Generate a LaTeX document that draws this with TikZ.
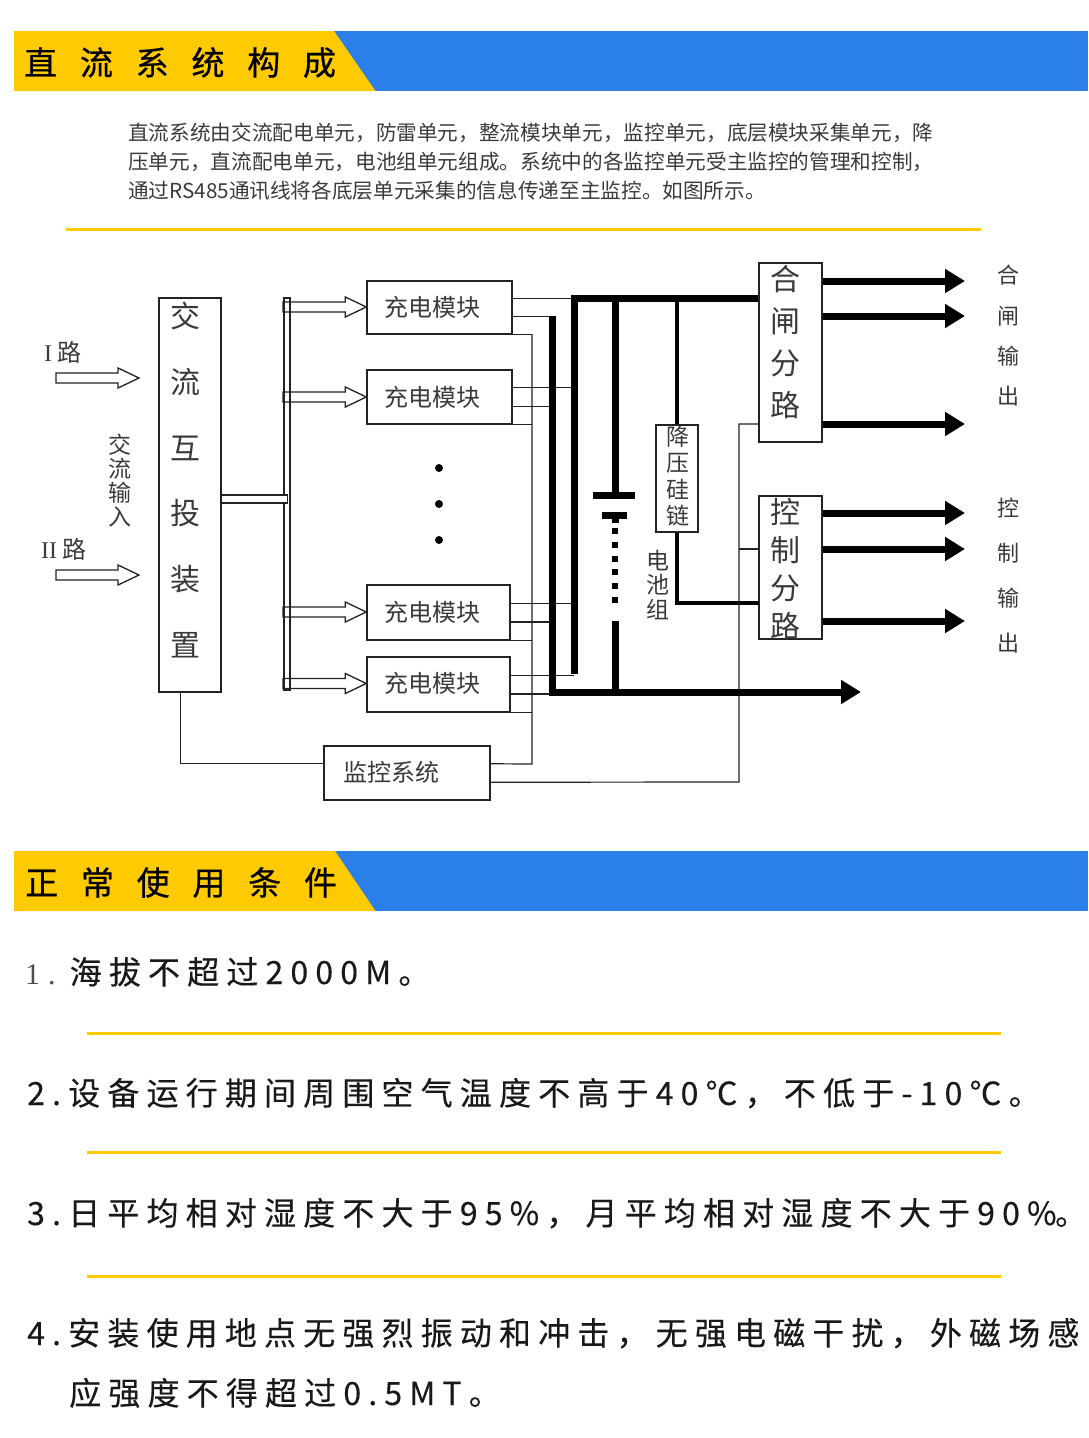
\documentclass[tikz,border=0pt]{standalone}
\usepackage{fontspec}
\usetikzlibrary{calc,arrows.meta}
\setmainfont{Noto Sans CJK SC}
\newfontfamily\cjk{Noto Sans CJK SC}
\newfontfamily\titlefont[LetterSpace=69,FakeBold=0.6]{Noto Sans CJK SC}
\newfontfamily\itemfont[LetterSpace=22.4,FakeBold=0.25]{Noto Sans CJK SC}
\newfontfamily\serifone{Liberation Serif}
\definecolor{hyellow}{HTML}{FFCB00}
\definecolor{hblue}{HTML}{2A80E8}
\definecolor{ink}{HTML}{222222}
\definecolor{dtext}{HTML}{3A3A3A}
\tikzset{
  boxnode/.style={draw=ink,line width=1.4pt,fill=white,inner sep=0pt,rectangle},
  thin line/.style={draw=ink,line width=1.2pt},
  heavy/.style={draw=black,line width=7pt,line cap=butt,line join=miter},
  medium/.style={draw=black,line width=4pt,line join=miter},
  outarrow/.style={draw=black,line width=7pt,-{Triangle[length=20pt,width=23pt]}},
  rule/.style={draw=hyellow,line width=3pt},
  titletext/.style={anchor=base west,inner sep=0pt,font=\fontsize{33}{33}\titlefont},
  itemtext/.style={anchor=base west,inner sep=0pt,text=black!90,font=\fontsize{32}{32}\itemfont},
  paratext/.style={anchor=base west,inner sep=0pt,text=dtext,font=\fontsize{20.65}{20.65}\selectfont},
  label/.style={inner sep=0pt,text=dtext,align=center},
}
\newcommand{\hollowarrow}[2]{%
  \draw[draw=ink,line width=1.3pt,line join=miter]
    let \p1=(#1),\p2=(#2) in
    (\x1,\y1+5pt) -- (\x2-21pt,\y1+5pt) -- (\x2-21pt,\y1+10pt) -- (\x2,\y1)
    -- (\x2-21pt,\y1-10pt) -- (\x2-21pt,\y1-5pt) -- (\x1,\y1-5pt) -- cycle;}
\begin{document}
\begin{tikzpicture}[x=1pt,y=-1pt]
\useasboundingbox (0,0) rectangle (1088,1438);
% headers
\fill[hblue] (330,31) rectangle (1088,91);
\fill[hyellow] (14,31) -- (334,31) -- (375.5,91) -- (14,91) -- cycle;
\fill[hblue] (330,851) rectangle (1088,911);
\fill[hyellow] (14,851) -- (335,851) -- (375.5,911) -- (14,911) -- cycle;
\node[titletext] (t1) at (24,75) {直流系统构成};
\node[titletext] (t2) at (25,895) {正常使用条件};
% paragraph
\node[paratext] (p1) at (128,140) {直流系统由交流配电单元，防雷单元，整流模块单元，监控单元，底层模块采集单元，降};
\node[paratext] (p2) at (128,169) {压单元，直流配电单元，电池组单元组成。系统中的各监控单元受主监控的管理和控制，};
\node[paratext] (p3) at (128,198) {通过RS485通讯线将各底层单元采集的信息传递至主监控。如图所示。};
\draw[rule] (66,229) -- (981,229);
% boxes
\node[boxnode,minimum width=62pt,minimum height=394pt] (ac) at (190,495) {};
\node[boxnode,minimum width=6pt,minimum height=392pt] (bus) at (287,494) {};
\node[boxnode,minimum width=66pt,minimum height=8pt] (bar) at (254.5,499) {};
\node[boxnode,minimum width=145pt,minimum height=53pt] (m1) at (439.5,307.5) {};
\node[boxnode,minimum width=145pt,minimum height=54pt] (m2) at (439.5,397) {};
\node[boxnode,minimum width=143pt,minimum height=55pt] (m3) at (438.5,612.5) {};
\node[boxnode,minimum width=143pt,minimum height=55pt] (m4) at (438.5,684.5) {};
\node[boxnode,minimum width=166pt,minimum height=54pt] (mon) at (407,773) {};
\node[boxnode,minimum width=63pt,minimum height=179pt] (he) at (790.5,352.5) {};
\node[boxnode,minimum width=63pt,minimum height=143pt] (ctl) at (790.5,567.5) {};
\node[boxnode,minimum width=42pt,minimum height=107pt] (drop) at (677,478.5) {};
% coordinates of buses
\coordinate (cTop) at (532,334);
\coordinate (cBot) at (532,764);
\coordinate (aTop) at (574,298);
\coordinate (aBot) at (574,674);
\coordinate (bTop) at (552,316);
\coordinate (bBot) at (552,692);
\coordinate (bEnd) at (861,692);
\coordinate (dTop) at (739,424);
\coordinate (dBot) at (739,782);
% stubs of the modules
\foreach \m in {m1,m2,m3,m4}{
  \coordinate (\m up) at ($(\m.north east)!1/3!(\m.south east)$);
  \coordinate (\m lo) at ($(\m.north east)!2/3!(\m.south east)$);
  \draw[thin line] (\m up) -- (\m up -| aTop);
  \draw[thin line] (\m lo) -- (\m lo -| bTop);
  \draw[thin line] (\m.south east) -- (\m.south east -| cTop);
}
\coordinate (monA) at ($(mon.north east)!1/3!(mon.south east)$);
\coordinate (monB) at ($(mon.north east)!2/3!(mon.south east)$);
\coordinate (monW) at ($(mon.north west)!1/3!(mon.south west)$);
\coordinate (acS) at ($(ac.south west)!.35!(ac.south east)$);
\coordinate (ctlIn) at (759,549);
\coordinate (ctlBr) at (759,603);
\draw[thin line] (cTop) -- (cBot) -- (monA);
\draw[thin line] (monB) -- (dBot) -- (dTop) -- (dTop -| he.west);
\draw[thin line] (dTop |- ctlIn) -- (ctlIn);
\draw[thin line] (monW) -| (acS);
% heavy buses
\draw[heavy] (aBot) -- (aTop) -- (aTop -| he.west);
\draw[heavy] (bTop) -- (bBot);
\draw[draw=black,line width=7pt,-{Triangle[length=20pt,width=23pt]}] ($(bBot)+(-3.5,0)$) -- (bEnd);
% battery
\coordinate (batA) at (615,495);
\coordinate (batB) at (615,515);
\coordinate (batC) at (615,621);
\draw[heavy] (aTop -| batA) -- (batA);
\draw[heavy] ($(batA)+(-22,0)$) -- ($(batA)+(20,0)$);
\draw[heavy] ($(batB)+(-13,0)$) -- ($(batB)+(12,0)$);
\draw[heavy] (batB) -- ++(0,8);
\draw[draw=black,line width=6pt,dash pattern=on 6pt off 7.8pt] (615,528) -- (615,604);
\draw[heavy] (batC) -- (bBot -| batC);
% branch through the diode chain
\draw[medium] (aTop -| drop.north) -- (drop.north);
\draw[medium] (drop.south) |- (ctlBr);
% outputs
\coordinate (o1) at (965,281); \coordinate (o2) at (965,316); \coordinate (o3) at (965,424);
\coordinate (o4) at (965,513); \coordinate (o5) at (965,549); \coordinate (o6) at (965,621);
\draw[outarrow] (o1 -| he.east) -- (o1);
\draw[outarrow] (o2 -| he.east) -- (o2);
\draw[outarrow] (o3 -| he.east) -- (o3);
\draw[outarrow] (o4 -| ctl.east) -- (o4);
\draw[outarrow] (o5 -| ctl.east) -- (o5);
\draw[outarrow] (o6 -| ctl.east) -- (o6);
% hollow arrows
\coordinate (i1) at (56,378); \coordinate (i2) at (56,575);
\coordinate (i1e) at (139,378); \coordinate (i2e) at (139,575);
\hollowarrow{i1}{i1e}
\hollowarrow{i2}{i2e}
\coordinate (s1) at (283,307); \coordinate (s2) at (283,397);
\coordinate (s3) at (283,612); \coordinate (s4) at (283,683.5);
\hollowarrow{s1}{m1.west}
\hollowarrow{s2}{m2.west}
\hollowarrow{s3}{m3.west}
\hollowarrow{s4}{m4.west}
% dots
\fill[black] (439,468) circle (4pt) (439,504) circle (4pt) (439,540) circle (4pt);
% diagram labels
\node[label,font=\fontsize{24}{24}\selectfont] (lm1) at (432.5,307) {充电模块};
\node[label,font=\fontsize{24}{24}\selectfont] (lm2) at (432.5,397) {充电模块};
\node[label,font=\fontsize{24}{24}\selectfont] (lm3) at (432.5,612) {充电模块};
\node[label,font=\fontsize{24}{24}\selectfont] (lm4) at (432.5,683) {充电模块};
\node[label,font=\fontsize{24}{24}\selectfont] (lmon) at (391,772) {监控系统};
\node[label,font=\fontsize{30}{65.8}\selectfont] (lac) at (185,480) {交\\流\\互\\投\\装\\置};
\node[label,font=\fontsize{30}{41.7}\selectfont] (lhe) at (785,342) {合\\闸\\分\\路};
\node[label,font=\fontsize{30}{37.7}\selectfont] (lctl) at (785,569) {控\\制\\分\\路};
\node[label,font=\fontsize{23}{26.5}\selectfont] (ldrop) at (678,476) {降\\压\\硅\\链};
\node[label,font=\fontsize{23}{24.5}\selectfont] (lbat) at (658,585) {电\\池\\组};
\node[label,font=\fontsize{23}{24}\selectfont] (lin) at (120,481) {交\\流\\输\\入};
\node[label,font=\fontsize{22}{40.3}\selectfont] (lo1) at (1008,336) {合\\闸\\输\\出};
\node[label,font=\fontsize{22}{45}\selectfont] (lo2) at (1008,576) {控\\制\\输\\出};
\node[label,anchor=west,font=\fontsize{24}{24}\selectfont] (lI) at (44,352) {{\serifone I} 路};
\node[label,anchor=west,font=\fontsize{24}{24}\selectfont] (lII) at (41,549) {{\serifone II} 路};
% conditions
\node[itemtext] (i1t) at (25,984) {{\fontsize{30}{30}\serifone\color{black!70}1\hspace{8pt}.}\hspace{14pt}海拔不超过2000M。};
\draw[rule] (87,1033) -- (1001,1033);
\node[itemtext] (i2t) at (27,1105) {2.设备运行期间周围空气温度不高于40℃，不低于-10℃。};
\draw[rule] (87,1152) -- (1001,1152);
\node[itemtext] (i3t) at (27,1225) {3.日平均相对湿度不大于95\%，月平均相对湿度不大于90\%\hspace{-1.5pt}。\hspace{-8pt}};
\draw[rule] (87,1276) -- (1001,1276);
\node[itemtext] (i4t) at (27,1345) {4.安装使用地点无强烈振动和冲击，无强电磁干扰，外磁场感};
\node[itemtext] (i5t) at (69,1405) {应强度不得超过0.5MT。};
\end{tikzpicture}
\end{document}
